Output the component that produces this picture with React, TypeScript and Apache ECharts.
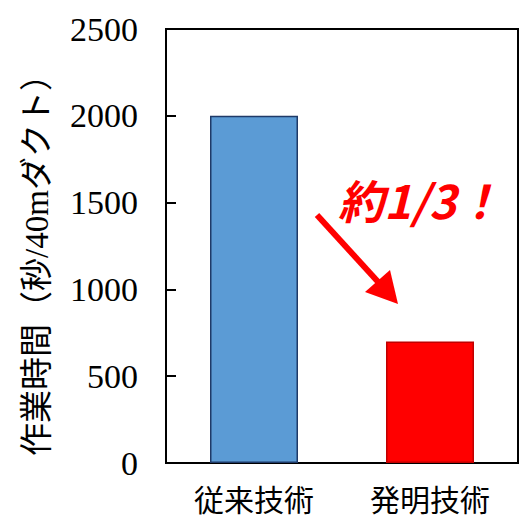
import React, { useEffect, useRef } from "react";
import * as echarts from "echarts";

const categories = ["従来技術", "発明技術"];
const values = [2000, 700];
const barColors = ["#5B9BD5", "#FF0000"];
const barBorders = ["#1F3A68", "#C00000"];
const yTicks = [0, 500, 1000, 1500, 2000, 2500];
const yAxisTitle = "作業時間（秒/40mダクト）";
const annotation = "約1/3！";

export default function App() {
  const ref = useRef<HTMLDivElement>(null);
  useEffect(() => {
    const chart = echarts.init(ref.current!, null, { renderer: "svg" });
    chart.setOption({
      animation: false,
      backgroundColor: "#ffffff",
      grid: {
        left: 166,
        top: 29,
        right: 11,
        bottom: 57,
        show: true,
        borderColor: "#000",
        borderWidth: 2,
        containLabel: false,
      },
      xAxis: {
        type: "category",
        data: categories,
        axisLine: { lineStyle: { color: "#000", width: 2 } },
        axisTick: { inside: true, length: 8, lineStyle: { color: "#000", width: 2 } },
        axisLabel: {
          color: "#000",
          fontSize: 30,
          lineHeight: 30,
          fontFamily: "'Noto Sans CJK JP', sans-serif",
          margin: 20,
        },
      },
      yAxis: {
        type: "value",
        min: yTicks[0],
        max: yTicks[yTicks.length - 1],
        interval: yTicks[1] - yTicks[0],
        splitLine: { show: false },
        axisLine: { show: true, lineStyle: { color: "#000", width: 2 } },
        axisTick: { show: true, inside: true, length: 10, lineStyle: { color: "#000", width: 2 } },
        axisLabel: {
          color: "#000",
          fontSize: 34,
          fontFamily: "'Liberation Serif', 'Times New Roman', serif",
          margin: 28,
          formatter: (v: number) => String(v),
        },
      },
      series: [
        {
          type: "bar",
          barWidth: "50%",
          data: values.map((v, i) => ({
            value: v,
            itemStyle: { color: barColors[i], borderColor: barBorders[i], borderWidth: 1.5 },
          })),
        },
      ],
      graphic: [
        {
          type: "text",
          x: 37,
          y: 257,
          rotation: Math.PI / 2,
          style: {
            text: yAxisTitle,
            fill: "#000",
            fontSize: 33,
            fontFamily: "'Liberation Serif', 'Noto Sans CJK JP', serif",
            align: "center",
            verticalAlign: "middle",
          },
        },
        {
          type: "text",
          x: 420,
          y: 199,
          style: {
            text: annotation,
            fill: "#FF0000",
            fontSize: 46,
            fontWeight: "bold",
            fontStyle: "italic",
            fontFamily: "'Noto Sans CJK JP', sans-serif",
            align: "center",
            verticalAlign: "middle",
          },
        },
        {
          type: "line",
          shape: { x1: 317, y1: 215, x2: 380, y2: 284 },
          style: { stroke: "#FF0000", lineWidth: 6 },
        },
        {
          type: "polygon",
          shape: { points: [[398, 304], [365, 292], [390, 270]] },
          style: { fill: "#FF0000" },
        },
      ],
    });
    return () => chart.dispose();
  }, []);
  return (
    <div
      ref={ref}
      style={{ position: "fixed", left: 0, top: 0, width: 529, height: 520 }}
    />
  );
}
